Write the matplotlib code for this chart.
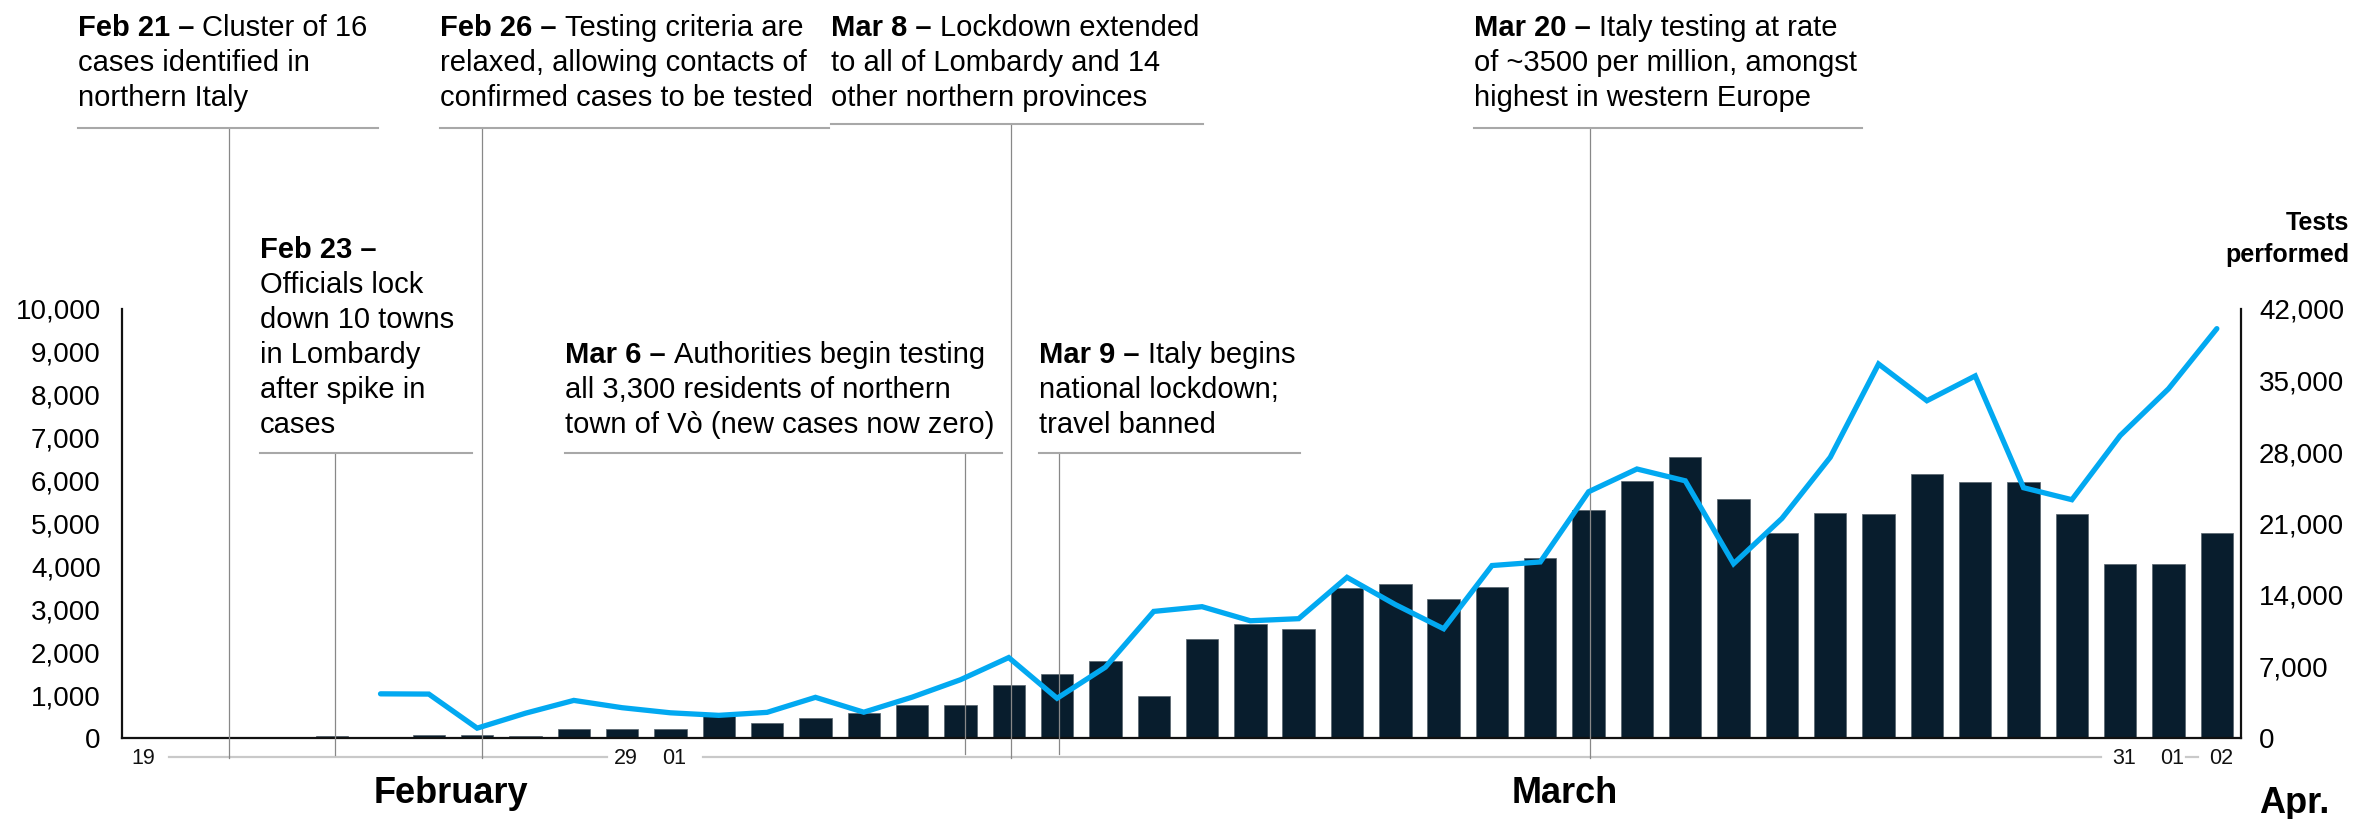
import matplotlib
matplotlib.use("Agg")
import matplotlib.pyplot as plt
from matplotlib.lines import Line2D
from matplotlib.transforms import blended_transform_factory
import numpy as np

plt.rcParams['font.family'] = ['Liberation Sans', 'DejaVu Sans']

# ---------------- data ----------------
dates = (["Feb %02d" % d for d in range(19, 30)] +
         ["Mar %02d" % d for d in range(1, 32)] +
         ["Apr %02d" % d for d in range(1, 3)])

new_cases = [0, 0, 0, 0, 40, 10, 78, 62, 40, 220, 205,
             212, 510, 342, 466, 587, 769, 778, 1247, 1492, 1797,
             977, 2313, 2651, 2547, 3497, 3590, 3233, 3526, 4207, 5322,
             5986, 6557, 5560, 4789, 5249, 5210, 6153, 5959, 5974, 5217,
             4050, 4053, 4782]

tests_start = "Feb 24"
tests_performed = [4324, 4299, 964, 2427, 3681, 2966,
                   2466, 2218, 2511, 3981, 2525, 3997, 5703, 7875, 3889, 6935,
                   12393, 12857, 11477, 11682, 15729, 13063, 10695, 16884, 17236, 24109,
                   26336, 25180, 17066, 21496, 27481, 36615, 33019, 35447, 24504, 23329,
                   29609, 34187, 40077]

tick_dates = ["Feb 19", "Feb 29", "Mar 01", "Mar 31", "Apr 01", "Apr 02"]
tick_texts = ["19", "29", "01", "31", "01", "02"]

left_ticks = list(range(0, 10001, 1000))
right_ticks = list(range(0, 42001, 7000))

# (bold prefix, rest of first line, following lines, x of vertical line as day index)
events = [
    ("Feb 21 \u2013", "Cluster of 16", ["cases identified in", "northern Italy"], 1.87),
    ("Feb 26 \u2013", "Testing criteria are", ["relaxed, allowing contacts of", "confirmed cases to be tested"], 7.09),
    ("Mar 8 \u2013", "Lockdown extended", ["to all of Lombardy and 14", "other northern provinces"], 18.04),
    ("Mar 20 \u2013", "Italy testing at rate", ["of ~3500 per million, amongst", "highest in western Europe"], 30.02),
    ("Feb 23 \u2013", "", ["Officials lock", "down 10 towns", "in Lombardy", "after spike in", "cases"], 4.06),
    ("Mar 6 \u2013", "Authorities begin testing", ["all 3,300 residents of northern", "town of V\u00f2 (new cases now zero)"], 17.09),
    ("Mar 9 \u2013", "Italy begins", ["national lockdown;", "travel banned"], 19.03),
]
# layout for each event: text left px, first baseline px, rule y px, rule right px, vline bottom px
event_layout = [
    (78, 36, 128, 378, 758),
    (440, 36, 128, 829, 758),
    (831, 36, 124, 1203, 758),
    (1474, 36, 128, 1862, 758),
    (260, 258, 453, 472, 755),
    (565, 363, 453, 1002, 754),
    (1039, 363, 453, 1300, 754),
]

# ---------------- style ----------------
W, H = 2356, 819
BAR = '#081d2d'
LINE = '#02a9f1'
TXT = '#000000'

fig = plt.figure(figsize=(W / 100, H / 100), dpi=100)
fig.patch.set_facecolor('white')


def fx(px):
    return px / W


def fy(py):
    return 1 - py / H


ax_left, ax_right, ax_top, ax_bot = 121.5, 2241, 309, 738
ax = fig.add_axes([fx(ax_left), fy(ax_bot), (ax_right - ax_left) / W, (ax_bot - ax_top) / H])

x = np.arange(len(dates))
ax.bar(x, new_cases, width=0.67, color=BAR, edgecolor='#56626c', linewidth=0.5, zorder=2)
ax.set_xlim(-0.36, 43.5)
ax.set_ylim(0, 10000)
ax.set_yticks(left_ticks)
ax.set_yticklabels([f"{v:,}" for v in left_ticks])
ax.tick_params(axis='y', length=0, pad=15, labelsize=20, labelcolor=TXT)
ax.set_xticks([])
for s in ['top', 'right']:
    ax.spines[s].set_visible(False)
for s in ['left', 'bottom']:
    ax.spines[s].set_linewidth(1.6)
    ax.spines[s].set_color('#111111')

ax2 = ax.twinx()
t0 = dates.index(tests_start)
tx = x[t0:t0 + len(tests_performed)]
ax2.plot(tx, tests_performed, color=LINE, linewidth=3.8, solid_capstyle='round',
         solid_joinstyle='miter', zorder=5)
ax2.set_ylim(0, 42000)
ax2.set_yticks(right_ticks)
ax2.set_yticklabels([f"{v:,}" for v in right_ticks])
ax2.tick_params(axis='y', length=0, pad=13, labelsize=20, labelcolor=TXT)
for s in ['top', 'left', 'bottom']:
    ax2.spines[s].set_visible(False)
ax2.spines['right'].set_linewidth(1.6)
ax2.spines['right'].set_color('#111111')
ax2.set_xlim(ax.get_xlim())

trans = blended_transform_factory(ax2.transData, fig.transFigure)

# x tick labels
for d, lab in zip(tick_dates, tick_texts):
    i = dates.index(d)
    ax2.text(i + 0.08, fy(759), lab, transform=trans, ha='center', va='center',
             fontsize=15.5, color='#111111', clip_on=False)

# month bracket lines
seg_color = '#c9c9c9'
for a, b in [(0.62, 9.68), (11.68, 40.6), (42.36, 42.62)]:
    ax2.add_line(Line2D([a, b], [fy(757), fy(757)], transform=trans, color=seg_color,
                        linewidth=1.6, clip_on=False, zorder=1))

fig.text(fx(451), fy(803), "February", fontsize=26, fontweight='bold', ha='center',
         va='baseline', color=TXT)
fig.text(fx(1565), fy(803), "March", fontsize=26, fontweight='bold', ha='center',
         va='baseline', color=TXT)
fig.text(fx(2294), fy(813), "Apr.", fontsize=26, fontweight='bold', ha='center',
         va='baseline', color=TXT)

fig.text(fx(2349), fy(230), "Tests", fontsize=18, fontweight='bold', ha='right',
         va='baseline', color=TXT)
fig.text(fx(2349), fy(262), "performed", fontsize=18, fontweight='bold', ha='right',
         va='baseline', color=TXT)

# annotations
renderer = fig.canvas.get_renderer()
FS = 21
LS = 35
space_px = 0.278 * FS * 100 / 72
for (bold, rest, lines, vx), (tx0, base, ry, rx1, vb) in zip(events, event_layout):
    t = fig.text(fx(tx0), fy(base), bold, fontsize=FS, fontweight='bold', ha='left',
                 va='baseline', color=TXT)
    if rest:
        bb = t.get_window_extent(renderer)
        fig.text(fx(tx0 + bb.width + space_px), fy(base), rest, fontsize=FS, ha='left',
                 va='baseline', color=TXT)
    for k, ln in enumerate(lines, 1):
        fig.text(fx(tx0), fy(base + LS * k), ln, fontsize=FS, ha='left', va='baseline',
                 color=TXT)
    fig.add_artist(Line2D([fx(tx0), fx(rx1)], [fy(ry), fy(ry)], transform=fig.transFigure,
                          color='#a8a8a8', linewidth=1.5))
    ax2.add_line(Line2D([vx, vx], [fy(ry), fy(vb)], transform=trans, color='#888888',
                        linewidth=0.9, clip_on=False, zorder=3))

fig.savefig("out.png", dpi=100, facecolor='white')
